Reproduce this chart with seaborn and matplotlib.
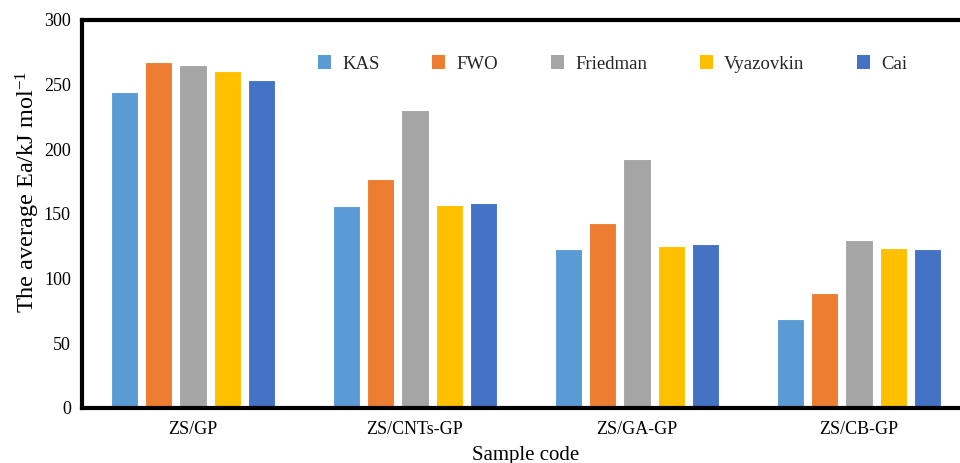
import matplotlib
matplotlib.use("Agg")
import matplotlib.pyplot as plt
import seaborn as sns
import pandas as pd

# Average activation energy per sample and kinetic method
samples = ["ZS/GP", "ZS/CNTs-GP", "ZS/GA-GP", "ZS/CB-GP"]
methods = ["KAS", "FWO", "Friedman", "Vyazovkin", "Cai"]
kas = [244.6, 156.2, 122.7, 68.6]
fwo = [267.6, 176.9, 143.3, 89.2]
friedman = [265.5, 230.7, 192.3, 129.7]
vyazovkin = [260.4, 156.8, 125.0, 124.0]
cai = [253.7, 158.3, 126.6, 123.0]
colors = ["#5B9BD5", "#ED7D31", "#A5A5A5", "#FFC000", "#4472C4"]
yticks = [0, 50, 100, 150, 200, 250, 300]

series = [kas, fwo, friedman, vyazovkin, cai]
df = pd.DataFrame(
    [(s, m, v) for m, vals in zip(methods, series) for s, v in zip(samples, vals)],
    columns=["sample", "method", "ea"],
)

sns.set_theme(style="white")
plt.rcParams["font.family"] = ["Liberation Serif", "DejaVu Serif"]
plt.rcParams["mathtext.fontset"] = "custom"
plt.rcParams["mathtext.rm"] = "Liberation Serif"
plt.rcParams["mathtext.default"] = "regular"

fig = plt.figure(figsize=(9.6, 4.63), dpi=100)
ax = fig.add_axes([82 / 960, 1 - 408 / 463, (970 - 82) / 960, (408 - 20) / 463])

sns.barplot(
    data=df, x="sample", y="ea", hue="method", order=samples, hue_order=methods,
    palette=colors, saturation=1, width=0.77, gap=0.2, edgecolor="white",
    linewidth=0.8, ax=ax, legend=True,
)

ax.set_xlim(-0.5, 3.5)
ax.set_ylim(0, 300)
ax.set_yticks(yticks)
ax.set_yticklabels([str(t) for t in yticks])
ax.tick_params(axis="both", length=0, labelsize=13, colors="black")
ax.tick_params(axis="y", pad=8)
ax.tick_params(axis="x", pad=9)

for side in ["left", "top", "bottom"]:
    ax.spines[side].set_visible(True)
    ax.spines[side].set_color("black")
    ax.spines[side].set_linewidth(3)
ax.spines["right"].set_visible(False)

ax.set_xlabel("Sample code", fontsize=15, color="black", labelpad=6)
ax.set_ylabel("The average Ea/kJ mol$^{-1}$", fontsize=17.5, color="black")
ax.yaxis.set_label_coords(-0.045, 0.556)

handles, labels = ax.get_legend_handles_labels()
for h in handles:
    h.set_edgecolor("none")
ax.legend_.remove()
fig.legend(
    handles, labels, loc="center left", bbox_to_anchor=(318 / 960, 1 - 64 / 463),
    ncol=5, frameon=False, fontsize=13.5, handlelength=0.7, handleheight=0.7,
    handletextpad=0.6, columnspacing=2.8, borderaxespad=0, borderpad=0,
)

fig.savefig("out.png", dpi=100)
